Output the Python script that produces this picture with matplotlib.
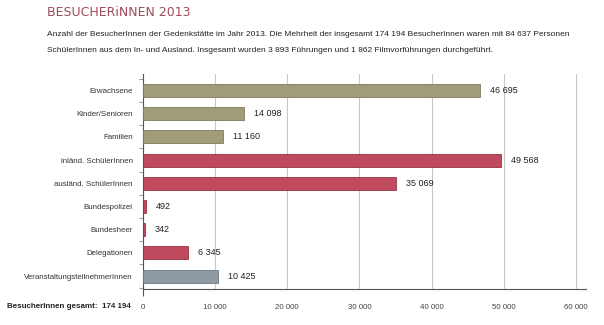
import matplotlib
matplotlib.use("Agg")
import matplotlib.pyplot as plt
import numpy as np

# Daten
kategorien = ["Erwachsene", "Kinder/Senioren", "Familien", "inländ. SchülerInnen",
              "ausländ. SchülerInnen", "Bundespolizei", "Bundesheer", "Delegationen",
              "VeranstaltungsteilnehmerInnen"]
werte = [46695, 14098, 11160, 49568, 35069, 492, 342, 6345, 10425]
gruppe = ["erw", "erw", "erw", "sch", "sch", "sch", "sch", "sch", "ver"]
x_ticks = [0, 10000, 20000, 30000, 40000, 50000, 60000]
gesamt = 174194

farben = {"erw": "#a09b79", "sch": "#bf4a5f", "ver": "#8f9ba4"}
kanten = {"erw": "#7f7a58", "sch": "#98303f", "ver": "#6d7880"}

def tsd(v):
    return f"{v:,}".replace(",", " ")

# keine schmale Schrift installiert -> Liberation Sans, etwas kleiner
plt.rcParams["font.family"] = ["Liberation Sans", "DejaVu Sans"]

fig = plt.figure(figsize=(6.04, 3.25), dpi=100)
ax = fig.add_axes([142.5 / 604, 1 - 289 / 325, (586 - 142.5) / 604, (289 - 74) / 325])

y = np.arange(len(kategorien))
for i, (w, g) in enumerate(zip(werte, gruppe)):
    ax.barh(i, w, height=0.56, color=farben[g], edgecolor=kanten[g], linewidth=0.6, zorder=3)
    ax.annotate(tsd(w), (w, i), xytext=(7, 0), textcoords="offset points",
                va="center", ha="left", fontsize=6.5, color="#222222")

ax.set_xlim(0, 61350)
ax.set_ylim(8.56, -0.71)
ax.set_yticks(y)
ax.set_yticklabels(kategorien, fontsize=5.7, color="#333333")
ax.set_yticks(np.arange(-0.5, 9, 1), minor=True)
ax.tick_params(axis="y", which="major", length=0, pad=7)
ax.tick_params(axis="y", which="minor", length=3, color="#888888", width=0.6)

ax.set_xticks(x_ticks)
ax.set_xticklabels([tsd(v) for v in x_ticks], fontsize=5.7, color="#444444")
ax.tick_params(axis="x", length=0, pad=11)
ax.grid(axis="x", color="#c8c8c8", linewidth=0.8, zorder=0)
# nur bei 0 ein kleiner Strich nach unten
t0 = ax.xaxis.get_major_ticks()[0]
t0.tick1line.set_markersize(5)
t0.tick1line.set_markeredgecolor("#555555")
t0.tick1line.set_markeredgewidth(0.8)

for s in ["top", "right"]:
    ax.spines[s].set_visible(False)
ax.spines["left"].set_color("#555555")
ax.spines["left"].set_linewidth(0.8)
ax.spines["bottom"].set_color("#555555")
ax.spines["bottom"].set_linewidth(0.8)

fig.text(7 / 604, 1 - 306 / 325, "BesucherInnen gesamt:  " + tsd(gesamt), fontsize=5.8,
         fontweight="bold", color="#222222", va="center", ha="left")

fig.text(47 / 604, 1 - 12 / 325, "BESUCHERiNNEN 2013", fontsize=9, color="#9e4a58",
         va="center", ha="left", family="DejaVu Sans")
fig.text(47 / 604, 1 - 35 / 325,
         "Anzahl der BesucherInnen der Gedenkstätte im Jahr 2013. Die Mehrheit der insgesamt 174 194 "
         "BesucherInnen waren mit 84 637 Personen", fontsize=6.0, color="#222222", va="center", ha="left")
fig.text(47 / 604, 1 - 50 / 325,
         "SchülerInnen aus dem In- und Ausland. Insgesamt wurden 3 893 Führungen und 1 862 "
         "Filmvorführungen durchgeführt.", fontsize=6.0, color="#222222", va="center", ha="left")

fig.savefig("out.png", dpi=100)
